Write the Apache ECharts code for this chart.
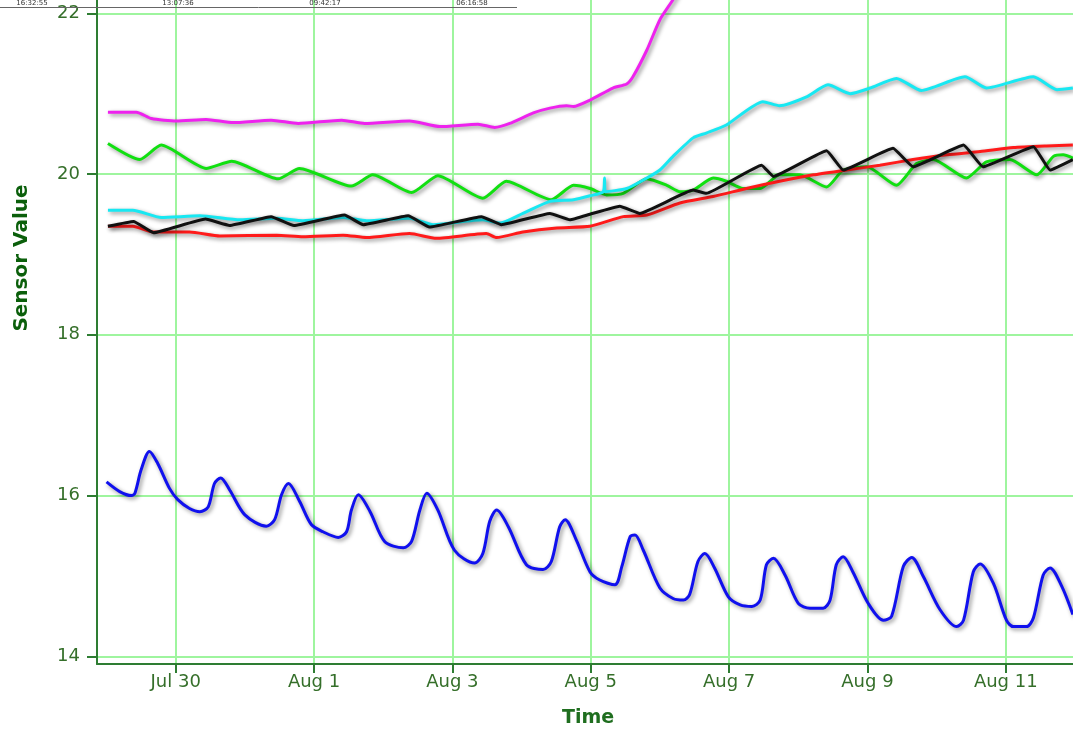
<!DOCTYPE html>
<html>
<head>
<meta charset="utf-8">
<script src="https://cdn.jsdelivr.net/npm/echarts@6/dist/echarts.min.js"></script>
<style>
  html, body { margin: 0; padding: 0; background: #ffffff; }
  #chart { width: 1073px; height: 731px; }
</style>
</head>
<body>
<div id="chart"></div>
<script>
// Time is measured in days from Jul 28 00:00.
const xTickDays = [2, 4, 6, 8, 10, 12, 14];
const xTickLabels = ['Jul 30', 'Aug 1', 'Aug 3', 'Aug 5', 'Aug 7', 'Aug 9', 'Aug 11'];
const yTicks = [14, 16, 18, 20, 22];
const topStripLabels = ['16:32:55', '13:07:36', '09:42:17', '06:16:58'];

const X_MIN = 0.862, X_MAX = 14.972;
const Y_MIN = 13.905, Y_MAX = 22.165;

const blueDays = [1.00,1.19,1.36,1.41,1.50,1.62,1.74,1.91,2.03,2.20,2.35,2.47,2.56,2.65,2.78,3.00,3.31,3.43,3.53,3.63,3.79,3.96,4.13,4.35,4.47,4.54,4.64,4.81,5.02,5.29,5.41,5.53,5.63,5.79,6.03,6.32,6.44,6.54,6.64,6.81,7.07,7.31,7.43,7.55,7.63,7.79,7.99,8.13,8.35,8.45,8.57,8.64,8.76,9.00,9.19,9.34,9.43,9.55,9.65,9.79,9.99,10.16,10.33,10.45,10.54,10.64,10.81,11.00,11.17,11.36,11.46,11.55,11.65,11.79,12.01,12.23,12.35,12.52,12.64,12.81,13.05,13.29,13.39,13.53,13.63,13.82,14.01,14.11,14.30,14.40,14.54,14.64,14.81,14.97];
const blueValues = [16.17,16.05,16.00,16.03,16.32,16.55,16.40,16.09,15.95,15.84,15.80,15.86,16.15,16.22,16.07,15.76,15.62,15.70,16.01,16.15,15.93,15.64,15.55,15.48,15.55,15.82,16.01,15.80,15.43,15.35,15.43,15.82,16.03,15.82,15.32,15.16,15.28,15.68,15.82,15.61,15.14,15.08,15.18,15.61,15.70,15.45,15.05,14.95,14.89,15.12,15.49,15.51,15.32,14.85,14.72,14.70,14.77,15.18,15.28,15.10,14.74,14.64,14.62,14.70,15.14,15.22,15.01,14.66,14.60,14.60,14.70,15.14,15.24,15.05,14.66,14.45,14.50,15.12,15.23,14.99,14.58,14.37,14.45,15.05,15.15,14.91,14.45,14.37,14.37,14.48,15.01,15.10,14.87,14.52];

const magentaDays = [1.02,1.43,1.65,2.01,2.44,2.83,3.38,3.77,4.40,4.73,5.38,5.82,6.37,6.61,6.83,7.17,7.41,7.65,7.75,7.99,8.32,8.52,8.61,8.81,9.00,9.19,9.40];
const magentaValues = [20.77,20.77,20.69,20.66,20.68,20.64,20.67,20.63,20.67,20.63,20.66,20.59,20.62,20.58,20.63,20.76,20.82,20.85,20.84,20.92,21.07,21.12,21.21,21.54,21.92,22.17,22.50];

const greenDays = [1.02,1.48,1.79,2.44,2.81,3.48,3.79,4.54,4.85,5.41,5.79,6.44,6.78,7.43,7.75,7.99,8.23,8.47,8.81,9.10,9.29,9.48,9.77,9.96,10.20,10.45,10.73,11.02,11.41,11.65,11.99,12.42,12.71,12.95,13.43,13.72,14.06,14.45,14.69,14.83,14.97];
const greenValues = [20.38,20.18,20.36,20.07,20.16,19.94,20.07,19.85,19.99,19.77,19.98,19.70,19.91,19.68,19.86,19.82,19.74,19.76,19.94,19.86,19.78,19.80,19.95,19.91,19.82,19.82,19.99,19.99,19.84,20.05,20.09,19.86,20.13,20.18,19.95,20.15,20.18,19.99,20.22,20.24,20.20];

const cyanDays = [1.02,1.38,1.79,2.35,2.93,3.46,3.84,4.42,4.76,5.38,5.72,6.44,6.69,7.02,7.41,7.75,7.99,8.18,8.20,8.21,8.52,8.81,9.00,9.19,9.48,9.67,9.96,10.49,10.73,11.12,11.43,11.75,12.04,12.42,12.78,13.41,13.72,14.40,14.74,14.97];
const cyanValues = [19.55,19.55,19.46,19.48,19.43,19.45,19.42,19.46,19.42,19.45,19.37,19.43,19.39,19.51,19.66,19.68,19.73,19.78,19.95,19.78,19.82,19.95,20.05,20.22,20.45,20.51,20.61,20.90,20.85,20.96,21.11,21.00,21.07,21.19,21.04,21.21,21.07,21.21,21.05,21.07];

const blackDays = [1.02,1.39,1.68,2.43,2.78,3.38,3.71,4.44,4.71,5.36,5.67,6.42,6.71,7.41,7.70,7.99,8.42,8.71,9.48,9.67,10.47,10.64,11.41,11.65,12.37,12.66,13.39,13.67,14.40,14.64,14.97];
const blackValues = [19.35,19.41,19.27,19.44,19.36,19.47,19.36,19.49,19.37,19.48,19.34,19.47,19.37,19.51,19.43,19.50,19.60,19.51,19.80,19.76,20.11,19.97,20.29,20.05,20.32,20.09,20.36,20.09,20.34,20.05,20.18];

const redDays = [1.02,1.38,1.67,2.20,2.64,3.46,3.84,4.42,4.76,5.38,5.77,6.49,6.64,7.02,7.51,7.99,8.47,8.81,9.29,9.77,10.25,10.73,11.22,11.70,12.18,12.66,13.15,13.63,14.11,14.59,14.97];
const redValues = [19.35,19.35,19.28,19.28,19.23,19.24,19.22,19.24,19.21,19.26,19.20,19.26,19.21,19.28,19.33,19.35,19.47,19.49,19.64,19.72,19.82,19.91,19.99,20.05,20.11,20.18,20.24,20.28,20.33,20.35,20.36];

function pairs(days, values) {
  return days.map((d, i) => [d, values[i]]);
}

const lineShadow = {
  width: 3,
  shadowColor: 'rgba(0,0,0,0.45)',
  shadowBlur: 4,
  shadowOffsetX: 2,
  shadowOffsetY: 2
};

function makeSeries(name, color, days, values, smooth) {
  return {
    name: name,
    type: 'line',
    data: pairs(days, values),
    showSymbol: false,
    smooth: smooth,
    clip: true,
    lineStyle: Object.assign({ color: color }, lineShadow),
    itemStyle: { color: color }
  };
}

const axisGreen = '#2e7d32';
const labelGreen = '#356f2a';
const gridGreen = '#9ef59e';

const chart = echarts.init(document.getElementById('chart'), null, { renderer: 'canvas' });

const option = {
  animation: false,
  backgroundColor: '#ffffff',
  grid: { left: 97, right: 0, top: 0, bottom: 67, containLabel: false },
  xAxis: {
    type: 'value',
    min: X_MIN,
    max: X_MAX,
    splitNumber: 7,
    axisLine: { show: true, onZero: false, lineStyle: { color: axisGreen, width: 2 } },
    axisTick: { show: true, length: 9, customValues: xTickDays, lineStyle: { color: axisGreen, width: 2 } },
    axisLabel: {
      customValues: xTickDays,
      formatter: v => {
        const i = xTickDays.indexOf(Math.round(v));
        return i >= 0 ? xTickLabels[i] : '';
      },
      color: labelGreen,
      fontSize: 18,
      fontFamily: 'DejaVu Sans',
      margin: 9
    },
    splitLine: { show: true, lineStyle: { color: gridGreen, width: 2 } }
  },
  yAxis: {
    type: 'value',
    min: Y_MIN,
    max: Y_MAX,
    splitNumber: 4,
    axisLine: { show: true, lineStyle: { color: axisGreen, width: 2 } },
    axisTick: { show: true, length: 10, customValues: yTicks, lineStyle: { color: axisGreen, width: 2 } },
    axisLabel: {
      customValues: yTicks,
      color: labelGreen,
      fontSize: 18,
      fontFamily: 'DejaVu Sans',
      margin: 17
    },
    splitLine: { show: true, lineStyle: { color: gridGreen, width: 2 } }
  },
  series: [
    makeSeries('green', '#11e011', greenDays, greenValues, 0.2),
    makeSeries('red', '#ff1a1a', redDays, redValues, 0.2),
    makeSeries('cyan', '#18e8f2', cyanDays, cyanValues, 0.2),
    makeSeries('magenta', '#ee22ee', magentaDays, magentaValues, 0.2),
    makeSeries('blue', '#1010ee', blueDays, blueValues, 0.3),
    makeSeries('black', '#111111', blackDays, blackValues, 0.1)
  ],
  graphic: [
    {
      type: 'text', x: 588, y: 718, z: 100,
      style: { text: 'Time', font: 'bold 19px "DejaVu Sans"', fill: '#1f6e1f', textAlign: 'center', textVerticalAlign: 'middle' }
    },
    {
      type: 'text', x: 22, y: 258, rotation: Math.PI / 2, z: 100,
      style: { text: 'Sensor Value', font: 'bold 20px "DejaVu Sans"', fill: '#0b5f0b', textAlign: 'center', textVerticalAlign: 'middle' }
    },
    {
      type: 'line', z: 100,
      shape: { x1: 0, y1: 7.5, x2: 517, y2: 7.5 },
      style: { stroke: '#666666', lineWidth: 1 }
    }
  ].concat(topStripLabels.map((t, i) => ({
    type: 'text', x: [32, 178, 325, 472][i], y: 3.5, z: 100,
    style: { text: t, font: '7px "DejaVu Sans"', fill: '#333333', textAlign: 'center', textVerticalAlign: 'middle' }
  })))
};

chart.setOption(option);
</script>
</body>
</html>
